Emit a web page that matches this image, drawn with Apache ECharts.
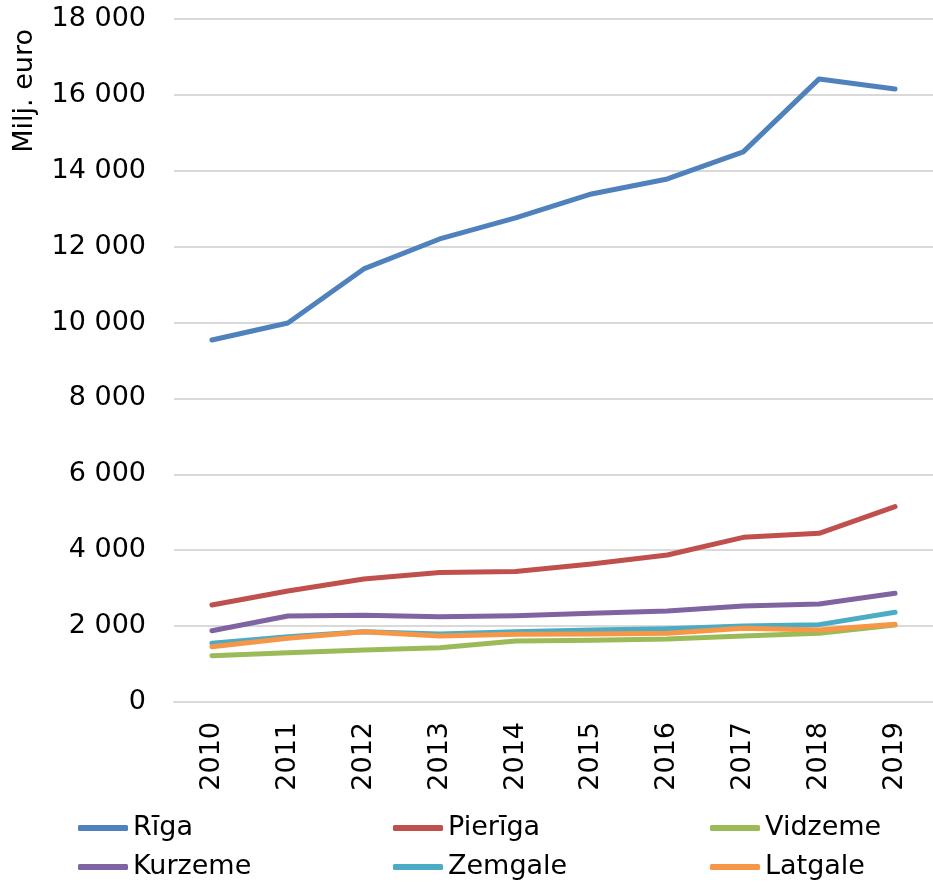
<!DOCTYPE html>
<html><head><meta charset="utf-8">
<script src="https://cdn.jsdelivr.net/npm/echarts@6/dist/echarts.min.js"></script>
<style>html,body{margin:0;padding:0;background:#fff}#c{width:933px;height:883px}</style>
</head><body><div id="c"></div>
<script>
var years = ['2010','2011','2012','2013','2014','2015','2016','2017','2018','2019'];
var riga    = [9541, 9989, 11413, 12203, 12757, 13390, 13785, 14497, 16421, 16157];
var pieriga = [2557, 2926, 3242, 3410, 3440, 3637, 3874, 4340, 4446, 5150];
var vidzeme = [1221, 1300, 1371, 1432, 1608, 1625, 1660, 1740, 1810, 2029];
var kurzeme = [1879, 2267, 2284, 2249, 2275, 2337, 2398, 2530, 2583, 2864];
var zemgale = [1546, 1722, 1854, 1793, 1854, 1898, 1933, 2004, 2039, 2364];
var latgale = [1458, 1678, 1854, 1740, 1784, 1793, 1810, 1942, 1898, 2047];
var names = ['Rīga','Pierīga','Vidzeme','Kurzeme','Zemgale','Latgale'];
var colors = ['#4F81BD','#C0504D','#9BBB59','#8064A2','#4BACC6','#F79646'];
var data = [riga, pieriga, vidzeme, kurzeme, zemgale, latgale];
var font = 'DejaVu Sans';
var chart = echarts.init(document.getElementById('c'));
var legendLeft = [78, 393, 710];
var legendTop = [812, 851];
var legends = names.map(function(n,i){
  return {left:legendLeft[i%3], top:legendTop[Math.floor(i/3)], itemWidth:50, itemHeight:6, icon:'roundRect',
    padding:0, textStyle:{fontFamily:font, fontSize:27, lineHeight:32, color:'#000'}, data:[n]};
});
chart.setOption({
  animation:false,
  color: colors,
  grid:{left:174, right:-4, top:19, bottom:181},
  graphic:[{type:'text', x:25, y:29, rotation:Math.PI/2,
    style:{text:'Milj. euro', fontFamily:font, fontSize:27, fill:'#000', textAlign:'right', textVerticalAlign:'middle'}}],
  legend: legends,
  xAxis:{type:'category', data:years, boundaryGap:true,
    axisLine:{lineStyle:{color:'#d9d9d9', width:2}}, axisTick:{show:false},
    axisLabel:{rotate:90, margin:20, fontFamily:font, fontSize:27, color:'#000'}},
  yAxis:{type:'value', min:0, max:18000, interval:2000,
    axisLine:{show:false}, axisTick:{show:false},
    splitLine:{lineStyle:{color:'#d9d9d9', width:2}},
    axisLabel:{margin:28, fontFamily:font, fontSize:27, color:'#000',
      formatter:function(v){return v>=1000? Math.floor(v/1000)+' '+String(v%1000).padStart(3,'0') : String(v);}}},
  series: names.map(function(n,i){return {name:n, type:'line', data:data[i], symbol:'none',
    lineStyle:{width:5, color:colors[i], cap:'round', join:'round'}, itemStyle:{color:colors[i]}};})
});
</script></body></html>
